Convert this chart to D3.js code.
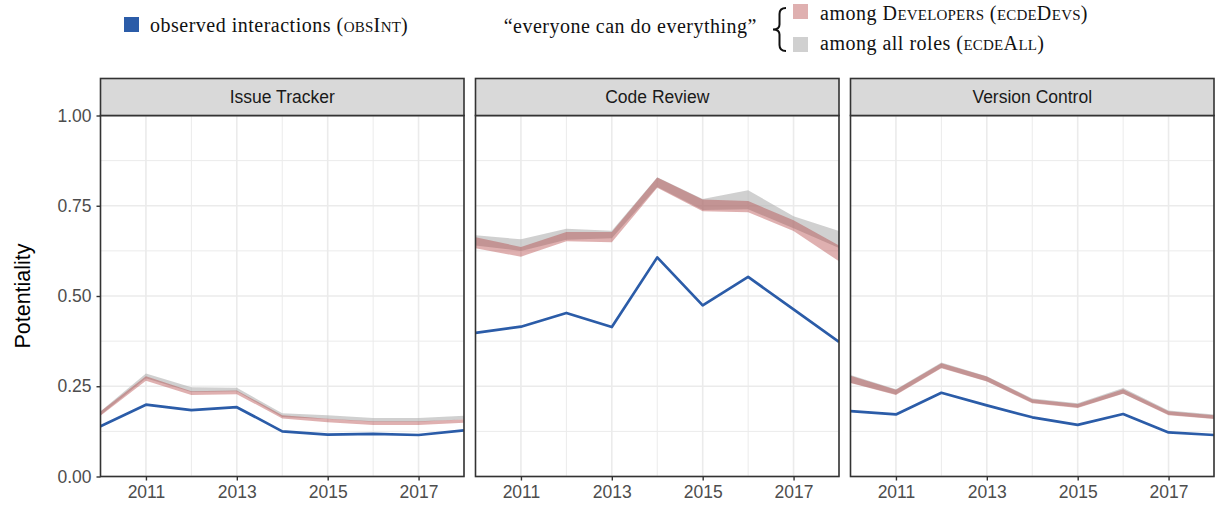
<!DOCTYPE html>
<html lang="en">
<head>
<meta charset="UTF-8">
<title>Potentiality</title>
<script src="https://cdn.jsdelivr.net/npm/d3@7"></script>
<style>
  body { margin: 0; background: #fff; }
  svg { display: block; }
  .axis text { font-family: "Liberation Sans", Arial, sans-serif; font-size: 17.5px; fill: #4d4d4d; }
  .axis path { display: none; }
  .axis line { stroke: #333; }
  .legend text { font-family: "Liberation Serif", "DejaVu Serif", serif; font-size: 20px; letter-spacing: 0.5px; fill: #111; }
  .sc { font-variant: small-caps; font-size: 21.5px; letter-spacing: 0.2px; }
</style>
</head>
<body>
<div id="chart"></div>
<script>
const years = [2010, 2011, 2012, 2013, 2014, 2015, 2016, 2017, 2018]
const panelNames = ['Issue Tracker', 'Code Review', 'Version Control']
const yTicks = [0, 0.25, 0.5, 0.75, 1]
const xTicks = [2011, 2013, 2015, 2017]

// observed interactions (obsInt)
const obsIssue  = [0.139, 0.199, 0.184, 0.192, 0.125, 0.116, 0.118, 0.115, 0.128]
const obsReview = [0.398, 0.415, 0.453, 0.414, 0.607, 0.474, 0.553, 0.463, 0.373]
const obsVcs    = [0.181, 0.172, 0.232, 0.197, 0.164, 0.143, 0.173, 0.122, 0.115]

// ecdeDevs ribbon (low / high)
const devsLowIssue   = [0.168, 0.265, 0.226, 0.228, 0.161, 0.150, 0.143, 0.143, 0.149]
const devsHighIssue  = [0.180, 0.278, 0.236, 0.238, 0.170, 0.160, 0.153, 0.153, 0.158]
const devsLowReview  = [0.632, 0.609, 0.652, 0.649, 0.800, 0.735, 0.732, 0.680, 0.596]
const devsHighReview = [0.663, 0.636, 0.677, 0.677, 0.828, 0.767, 0.763, 0.710, 0.640]
const devsLowVcs     = [0.259, 0.226, 0.300, 0.263, 0.203, 0.190, 0.229, 0.170, 0.159]
const devsHighVcs    = [0.279, 0.240, 0.314, 0.277, 0.214, 0.201, 0.242, 0.181, 0.170]

// ecdeAll ribbon (low / high)
const allLowIssue   = [0.170, 0.272, 0.234, 0.236, 0.165, 0.159, 0.152, 0.152, 0.158]
const allHighIssue  = [0.181, 0.285, 0.247, 0.246, 0.175, 0.170, 0.162, 0.162, 0.168]
const allLowReview  = [0.640, 0.625, 0.656, 0.660, 0.802, 0.738, 0.740, 0.688, 0.633]
const allHighReview = [0.668, 0.657, 0.686, 0.681, 0.829, 0.769, 0.793, 0.721, 0.680]
const allLowVcs     = [0.260, 0.227, 0.301, 0.264, 0.204, 0.191, 0.230, 0.171, 0.160]
const allHighVcs    = [0.281, 0.242, 0.316, 0.278, 0.216, 0.203, 0.245, 0.183, 0.172]

const panelData = [
  { obs: obsIssue, devsLow: devsLowIssue, devsHigh: devsHighIssue, allLow: allLowIssue, allHigh: allHighIssue },
  { obs: obsReview, devsLow: devsLowReview, devsHigh: devsHighReview, allLow: allLowReview, allHigh: allHighReview },
  { obs: obsVcs, devsLow: devsLowVcs, devsHigh: devsHighVcs, allLow: allLowVcs, allHigh: allHighVcs }
]

const width = 1217
const height = 508
const panelLefts = [100.5, 475.5, 850.5]
const panelW = 363.5
const plotTop = 115.5
const plotBottom = 476.5
const stripH = 37

const blue = '#2b5ca8'
const redFill = '#b03a3a', redOpacity = 0.4
const grayFill = '#b0b0b0', grayOpacity = 0.6

const svg = d3.select('#chart').append('svg')
  .attr('width', width)
  .attr('height', height)

const y = d3.scaleLinear().domain([0, 1]).range([plotBottom, plotTop])

panelNames.forEach((name, p) => {
  const x0 = panelLefts[p]
  const x = d3.scaleLinear().domain([2010, 2018]).range([x0, x0 + panelW])
  const d = panelData[p]
  const g = svg.append('g')

  // grid
  const minorY = [0.125, 0.375, 0.625, 0.875]
  g.selectAll('.gy').data(yTicks.concat(minorY)).enter().append('line')
    .attr('x1', x0).attr('x2', x0 + panelW)
    .attr('y1', v => y(v)).attr('y2', v => y(v))
    .attr('stroke', '#ebebeb')
    .attr('stroke-width', v => yTicks.includes(v) ? 1.6 : 1)
  g.selectAll('.gx').data(years).enter().append('line')
    .attr('x1', v => x(v)).attr('x2', v => x(v))
    .attr('y1', plotTop).attr('y2', plotBottom)
    .attr('stroke', '#ebebeb')
    .attr('stroke-width', v => xTicks.includes(v) ? 1.6 : 1)

  const clipId = 'clip' + p
  svg.append('clipPath').attr('id', clipId)
    .append('rect').attr('x', x0).attr('y', plotTop).attr('width', panelW).attr('height', plotBottom - plotTop)

  const plot = g.append('g').attr('clip-path', `url(#${clipId})`)

  const area = (lo, hi) => d3.area()
    .x((_, i) => x(years[i]))
    .y0((_, i) => y(lo[i]))
    .y1((_, i) => y(hi[i]))(years)

  plot.append('path')
    .attr('d', area(d.allLow, d.allHigh))
    .attr('fill', grayFill).attr('fill-opacity', grayOpacity)
  plot.append('path')
    .attr('d', area(d.devsLow, d.devsHigh))
    .attr('fill', redFill).attr('fill-opacity', redOpacity)

  plot.append('path')
    .attr('d', d3.line().x((_, i) => x(years[i])).y(v => y(v))(d.obs))
    .attr('fill', 'none')
    .attr('stroke', blue)
    .attr('stroke-width', 2.7)
    .attr('stroke-linejoin', 'round')

  // panel border
  g.append('rect')
    .attr('x', x0).attr('y', plotTop).attr('width', panelW).attr('height', plotBottom - plotTop)
    .attr('fill', 'none').attr('stroke', '#333').attr('stroke-width', 1.6)

  // strip
  g.append('rect')
    .attr('x', x0).attr('y', plotTop - stripH).attr('width', panelW).attr('height', stripH)
    .attr('fill', '#d9d9d9').attr('stroke', '#333').attr('stroke-width', 1.6)
  g.append('text')
    .attr('x', x0 + panelW / 2).attr('y', plotTop - stripH / 2 + 6)
    .attr('text-anchor', 'middle')
    .style('font-family', '"Liberation Sans", Arial, sans-serif')
    .style('font-size', '17.5px')
    .style('fill', '#1a1a1a')
    .text(name)

  // x axis
  g.append('g')
    .attr('class', 'axis')
    .attr('transform', `translate(0,${plotBottom})`)
    .call(d3.axisBottom(x).tickValues(xTicks).tickFormat(d3.format('d')).tickSize(4).tickPadding(5))
    .selectAll('line').attr('stroke-width', 1.4)

  if (p === 0) {
    g.append('g')
      .attr('class', 'axis')
      .attr('transform', `translate(${x0},0)`)
      .call(d3.axisLeft(y).tickValues(yTicks).tickFormat(d3.format('.2f')).tickSize(4).tickPadding(5))
      .selectAll('line').attr('stroke-width', 1.4)
  }
})

svg.append('text')
  .attr('transform', `translate(30,${(plotTop + plotBottom) / 2}) rotate(-90)`)
  .attr('text-anchor', 'middle')
  .style('font-family', '"Liberation Sans", Arial, sans-serif')
  .style('font-size', '21.5px')
  .style('fill', '#000')
  .text('Potentiality')

// legend
const legend = svg.append('g').attr('class', 'legend')

// parts: [text, smallCaps?]
const addParts = (el, parts) => parts.forEach(([s, sc]) => {
  const t = el.append('tspan').text(s)
  if (sc) t.attr('class', 'sc')
})

legend.append('rect')
  .attr('x', 124).attr('y', 17).attr('width', 15).attr('height', 15)
  .attr('fill', blue)
addParts(legend.append('text').attr('x', 150).attr('y', 32),
  [['observed interactions (', 0], ['obs', 1], ['I', 0], ['nt', 1], [')', 0]])

legend.append('text')
  .attr('x', 757).attr('y', 33)
  .attr('text-anchor', 'end')
  .text('\u201ceveryone can do everything\u201d')

legend.append('path')
  .attr('d', 'M786,8 Q779.5,8 779.5,14 L779.5,24.5 Q779.5,29.5 773,29.5 Q779.5,29.5 779.5,34.5 L779.5,45 Q779.5,51 786,51')
  .attr('fill', 'none').attr('stroke', '#111').attr('stroke-width', 2)

legend.append('rect')
  .attr('x', 793).attr('y', 4).attr('width', 15).attr('height', 15)
  .attr('fill', redFill).attr('fill-opacity', redOpacity)
legend.append('rect')
  .attr('x', 793).attr('y', 37).attr('width', 15).attr('height', 15)
  .attr('fill', grayFill).attr('fill-opacity', grayOpacity)

addParts(legend.append('text').attr('x', 820).attr('y', 20),
  [['among D', 0], ['evelopers', 1], [' (', 0], ['ecde', 1], ['D', 0], ['evs', 1], [')', 0]])

addParts(legend.append('text').attr('x', 820).attr('y', 50),
  [['among all roles (', 0], ['ecde', 1], ['A', 0], ['ll', 1], [')', 0]])
</script>
</body>
</html>
